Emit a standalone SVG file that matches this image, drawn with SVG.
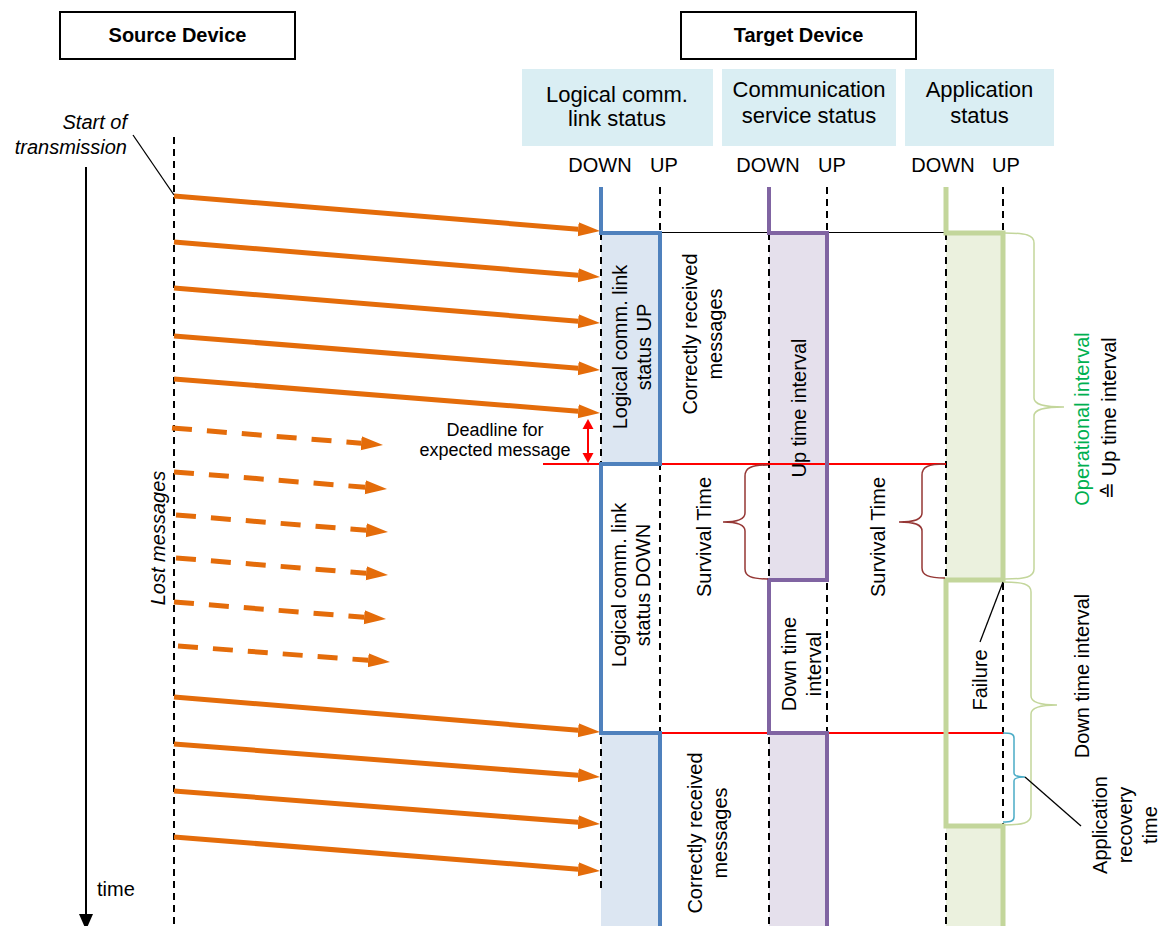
<svg xmlns="http://www.w3.org/2000/svg" width="1159" height="926" viewBox="0 0 1159 926">
<style>
text{font-family:"Liberation Sans",Arial,sans-serif;font-size:20px;fill:#000}
.b{font-weight:bold}
.hd{font-size:22px}
.it{font-style:italic}
.m{text-anchor:middle}
.e{text-anchor:end}
.dash{stroke:#000;stroke-width:2;stroke-dasharray:7 5;fill:none}
.arr{stroke:#E46C0A;stroke-width:5;fill:none;marker-end:url(#ah)}
.lost{stroke:#E46C0A;stroke-width:5;fill:none;stroke-dasharray:20 15;marker-end:url(#ah)}
.box{fill:#fff;stroke:#000;stroke-width:2}
.hdr{fill:#DAEEF3}
.brR{fill:none;stroke:#953735;stroke-width:1.5}
.brG{fill:none;stroke:#C3D69B;stroke-width:1.5}
.brB{fill:none;stroke:#4BACC6;stroke-width:1.5}
</style>
<defs>
<marker id="ah" markerUnits="userSpaceOnUse" markerWidth="24" markerHeight="16" refX="0" refY="7" orient="auto">
<path d="M0,0 L22,7 L0,14 z" fill="#E46C0A"/>
</marker>
</defs>
<rect width="1159" height="926" fill="#fff"/>

<g id="source-device"><rect class="box" x="60" y="12" width="235" height="47"/><text class="b m" x="177.5" y="42">Source Device</text></g>
<g id="target-device"><rect class="box" x="681" y="12" width="235" height="47"/><text class="b m" x="798.5" y="42">Target Device</text></g>

<g id="hdr-logical"><rect class="hdr" x="522" y="69" width="191" height="77"/><text class="hd m" x="617" y="102">Logical comm.</text><text class="hd m" x="617" y="126">link status</text></g>
<g id="hdr-comm"><rect class="hdr" x="722" y="69" width="174" height="77"/><text class="hd m" x="809" y="97">Communication</text><text class="hd m" x="809" y="123">service status</text></g>
<g id="hdr-app"><rect class="hdr" x="905" y="69" width="149" height="77"/><text class="hd m" x="979.5" y="97">Application</text><text class="hd m" x="979.5" y="123">status</text></g>

<g id="state-labels">
<text class="m" x="600" y="172">DOWN</text><text class="m" x="664" y="172">UP</text>
<text class="m" x="768" y="172">DOWN</text><text class="m" x="832" y="172">UP</text>
<text class="m" x="943" y="172">DOWN</text><text class="m" x="1006" y="172">UP</text>
</g>

<g id="fills">
<rect x="601" y="233" width="59" height="231" fill="#DCE6F2"/>
<rect x="601" y="733" width="59" height="193" fill="#DCE6F2"/>
<rect x="769" y="233" width="58" height="347" fill="#E5E0EC"/>
<rect x="769" y="733" width="58" height="193" fill="#E5E0EC"/>
<rect x="946" y="233" width="57" height="347" fill="#EBF1DE"/>
<rect x="946" y="826" width="57" height="100" fill="#EBF1DE"/>
</g>

<g id="timelines">
<line class="dash" x1="174" y1="137" x2="174" y2="926"/>
<line class="dash" x1="601" y1="233" x2="601" y2="888"/>
<line class="dash" x1="660" y1="187" x2="660" y2="926"/>
<line class="dash" x1="769" y1="233" x2="769" y2="926"/>
<line class="dash" x1="827" y1="187" x2="827" y2="926"/>
<line class="dash" x1="946" y1="233" x2="946" y2="926"/>
<line class="dash" x1="1003" y1="187" x2="1003" y2="926"/>
<line x1="660" y1="232.5" x2="946" y2="232.5" stroke="#000" stroke-width="1.2"/>
<line x1="543" y1="464" x2="946" y2="464" stroke="#FF0000" stroke-width="2"/>
<line x1="660" y1="733" x2="1003" y2="733" stroke="#FF0000" stroke-width="2"/>
</g>

<g id="status-lines" fill="none">
<path d="M601,187 V233 H660 V464 H601 V733 H660 V926" stroke="#4F81BD" stroke-width="4"/>
<path d="M769,187 V233 H827 V580 H769 V733 H827 V926" stroke="#8064A2" stroke-width="4"/>
<path d="M946,187 V233 H1003 V580 H946 V826 H1003 V926" stroke="#C3D69B" stroke-width="5"/>
</g>

<g id="connectors">
<line class="arr" x1="174" y1="196" x2="578.1" y2="229.2"/>
<line class="arr" x1="174" y1="242" x2="578.1" y2="275.2"/>
<line class="arr" x1="174" y1="288" x2="578.1" y2="321.2"/>
<line class="arr" x1="174" y1="336" x2="578.1" y2="368.2"/>
<line class="arr" x1="174" y1="379" x2="578.1" y2="411.2"/>
<line class="lost" x1="172" y1="428" x2="361.1" y2="443.2"/>
<line class="lost" x1="174" y1="472" x2="365.1" y2="487.2"/>
<line class="lost" x1="176" y1="515" x2="366.1" y2="530.2"/>
<line class="lost" x1="176" y1="558" x2="366.1" y2="573.2"/>
<line class="lost" x1="174" y1="602" x2="364.1" y2="617.2"/>
<line class="lost" x1="178" y1="646" x2="368.1" y2="660.3"/>
<line class="arr" x1="174" y1="697" x2="578.1" y2="730.2"/>
<line class="arr" x1="174" y1="744" x2="578.1" y2="775.3"/>
<line class="arr" x1="174" y1="791" x2="578.1" y2="822.3"/>
<line class="arr" x1="174" y1="837" x2="578.1" y2="869.2"/>
<line x1="133" y1="135" x2="174" y2="195" stroke="#000" stroke-width="1.3"/>
<line x1="86" y1="167" x2="86" y2="916" stroke="#000" stroke-width="2"/>
<polygon points="79,914 93,914 86,930" fill="#000"/>
<line x1="588" y1="427" x2="588" y2="455" stroke="#FF0000" stroke-width="2"/>
<polygon points="588,419 582.5,429 593.5,429" fill="#FF0000"/>
<polygon points="588,463 582.5,453 593.5,453" fill="#FF0000"/>
<path class="brR" d="M768,465 C751,465 745,468 745,476 L745,513 C745,519 739,522 723,522 C739,522 745,525 745,531 L745,569 C745,576 751,579 768,579"/>
<path class="brR" d="M945,464 C928,464 922,467 922,475 L922,513 C922,519 916,522 899,522 C916,522 922,525 922,531 L922,568 C922,575 928,578 945,578"/>
<path class="brG" d="M1005,233 C1026,233 1034,235 1034,243 L1034,398 C1034,404 1042,407 1064,407 C1042,407 1034,410 1034,416 L1034,569 C1034,577 1026,579 1005,579"/>
<path class="brG" d="M1003,582 C1023,582 1031,584 1031,592 L1031,696 C1031,702 1038,705 1057,705 C1038,705 1031,708 1031,714 L1031,815 C1031,823 1023,825 1003,825"/>
<path class="brB" d="M1003,733 C1011,733 1014,734 1014,738 L1014,773 C1014,776 1017,777 1025,777 C1017,777 1014,778 1014,781 L1014,817 C1014,821 1011,822 1003,822"/>
<line x1="980" y1="642" x2="1003" y2="582" stroke="#000" stroke-width="1.3"/>
<line x1="1025" y1="777" x2="1081" y2="826" stroke="#000" stroke-width="1.3"/>
</g>

<g id="labels">
<text class="it e" x="127" y="129">Start of</text>
<text class="it e" x="127" y="154">transmission</text>
<text x="97" y="896">time</text>
<text class="m" x="495" y="436" style="font-size:18px">Deadline for</text>
<text class="m" x="495" y="456" style="font-size:18px">expected message</text>
<text class="it m" transform="translate(165,538) rotate(-90)">Lost messages</text>
<g transform="translate(627,347) rotate(-90)"><text class="m" y="0">Logical comm. link</text><text class="m" y="24">status UP</text></g>
<g transform="translate(697,334) rotate(-90)"><text class="m" y="0">Correctly received</text><text class="m" y="25">messages</text></g>
<g transform="translate(626,585) rotate(-90)"><text class="m" y="0">Logical comm. link</text><text class="m" y="24">status DOWN</text></g>
<g transform="translate(702,833) rotate(-90)"><text class="m" y="0">Correctly received</text><text class="m" y="25">messages</text></g>
<text class="m" transform="translate(806,408) rotate(-90)">Up time interval</text>
<text class="m" transform="translate(711,537) rotate(-90)">Survival Time</text>
<text class="m" transform="translate(885,537) rotate(-90)">Survival Time</text>
<g transform="translate(796,664) rotate(-90)"><text class="m" y="0">Down time</text><text class="m" y="25">interval</text></g>
<text class="m" transform="translate(987,680) rotate(-90)">Failure</text>
<text class="m" transform="translate(1089,419) rotate(-90)" style="fill:#00B050">Operational interval</text>
<text class="m" transform="translate(1116,418) rotate(-90)">≙ Up time interval</text>
<text class="m" transform="translate(1089,676) rotate(-90)">Down time interval</text>
<g transform="translate(1107,825) rotate(-90)"><text class="m" y="0">Application</text><text class="m" y="25">recovery</text><text class="m" y="50">time</text></g>
</g>
</svg>
